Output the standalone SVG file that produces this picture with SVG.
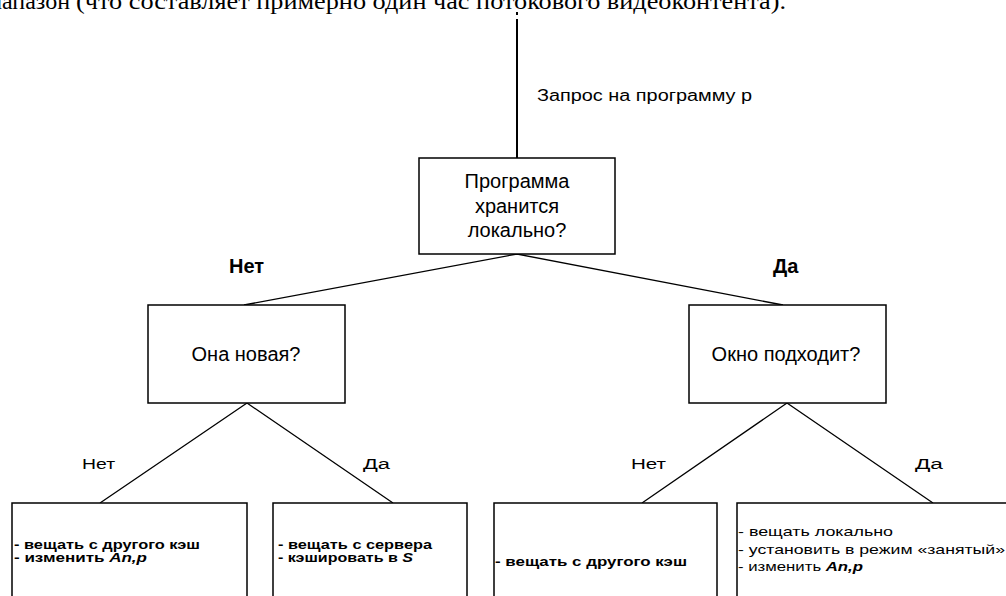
<svg xmlns="http://www.w3.org/2000/svg" width="1006" height="596" viewBox="0 0 1006 596">
<style>
.box{fill:#fff;stroke:#000;stroke-width:1.5}
.ln{stroke:#000;stroke-width:1.3;fill:none}
.q{font-family:"Liberation Sans",Arial,sans-serif;font-size:20px;fill:#000;text-anchor:middle}
.lbl{font-family:"Liberation Sans",Arial,sans-serif;font-size:20px;font-weight:bold;fill:#000}
.lbl2{font-family:"Liberation Sans",Arial,sans-serif;font-size:14px;fill:#000}
.t{font-family:"Liberation Sans",Arial,sans-serif;font-size:13px;font-weight:bold;fill:#000}
.t4{font-family:"Liberation Sans",Arial,sans-serif;font-size:13px;fill:#000}
.bi{font-weight:bold;font-style:italic}
.top{font-family:"Liberation Serif","Times New Roman",serif;font-size:24px;fill:#000}
</style>
<rect width="1006" height="596" fill="#fff"/>
<text class="top" x="70" y="8.5" text-anchor="end">иапазон</text>
<text class="top" x="76" y="8.5" textLength="710" lengthAdjust="spacingAndGlyphs">(что составляет примерно один час потокового видеоконтента).</text>
<g id="connectors">
<line x1="517" y1="12" x2="517" y2="15" stroke="#000" stroke-width="2"/>
<line x1="517" y1="19" x2="517" y2="158" stroke="#000" stroke-width="2"/>
<text class="lbl2" x="537" y="101" style="font-size:16px" textLength="215" lengthAdjust="spacingAndGlyphs">Запрос на программу р</text>
<polyline class="ln" points="244,305 517,254 783,305"/>
<text class="lbl" x="229" y="273">Нет</text>
<text class="lbl" x="773" y="273">Да</text>
<polyline class="ln" points="100,503 247,403 393,503"/>
<text class="lbl2" x="82" y="469" textLength="33" lengthAdjust="spacingAndGlyphs">Нет</text>
<text class="lbl2" x="363" y="469" textLength="27" lengthAdjust="spacingAndGlyphs">Да</text>
<polyline class="ln" points="642,503 787,403 933,503"/>
<text class="lbl2" x="631" y="469" textLength="35" lengthAdjust="spacingAndGlyphs">Нет</text>
<text class="lbl2" x="915" y="469" textLength="28" lengthAdjust="spacingAndGlyphs">Да</text>
</g>
<g id="node-root">
<rect class="box" x="419" y="158" width="196" height="96"/>
<text class="q" x="517" y="188">Программа</text>
<text class="q" x="517" y="213">хранится</text>
<text class="q" x="517" y="237">локально?</text>
</g>
<g id="node-new">
<rect class="box" x="148" y="305" width="197" height="98"/>
<text class="q" x="246" y="361">Она новая?</text>
</g>
<g id="node-window">
<rect class="box" x="689" y="305" width="197" height="98"/>
<text class="q" x="786" y="361">Окно подходит?</text>
</g>
<g id="leaf-1">
<rect class="box" x="12" y="503" width="235" height="110"/>
<text class="t" x="14" y="549" textLength="186" lengthAdjust="spacingAndGlyphs">- вещать с другого кэш</text>
<text class="t" x="14" y="562" textLength="133" lengthAdjust="spacingAndGlyphs">- изменить <tspan class="bi">An,p</tspan></text>
</g>
<g id="leaf-2">
<rect class="box" x="273" y="503" width="194" height="110"/>
<text class="t" x="278" y="549" textLength="154" lengthAdjust="spacingAndGlyphs">- вещать с сервера</text>
<text class="t" x="278" y="562" textLength="135" lengthAdjust="spacingAndGlyphs">- кэшировать в <tspan class="bi">S</tspan></text>
</g>
<g id="leaf-3">
<rect class="box" x="494" y="503" width="223" height="110"/>
<text class="t" x="495" y="566" textLength="192" lengthAdjust="spacingAndGlyphs">- вещать с другого кэш</text>
</g>
<g id="leaf-4">
<rect class="box" x="737" y="503" width="290" height="110"/>
<text class="t4" x="738" y="536" textLength="155" lengthAdjust="spacingAndGlyphs">- вещать локально</text>
<text class="t4" x="738" y="554" textLength="267" lengthAdjust="spacingAndGlyphs">- установить в режим «занятый»</text>
<text class="t4" x="738" y="571" textLength="125" lengthAdjust="spacingAndGlyphs">- изменить <tspan class="bi">An,p</tspan></text>
</g>
</svg>
